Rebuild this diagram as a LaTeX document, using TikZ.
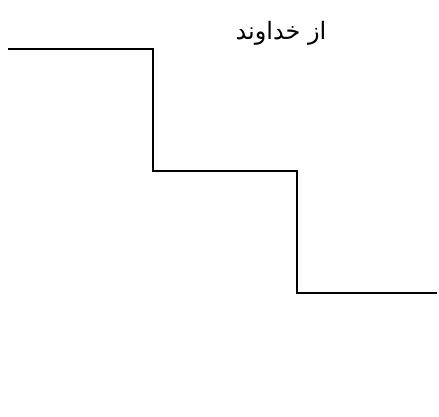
\documentclass[tikz,border=0pt]{standalone}
\usepackage{fontspec}
\TeXXeTstate=1
\newfontfamily\arabicfont[Script=Arabic]{DejaVu Sans}
\begin{document}
\begin{tikzpicture}[x=1pt,y=-1pt,
  stairline/.style={line width=1.5pt,line join=miter},
  label/.style={font=\arabicfont\fontsize{24}{30}\selectfont,inner sep=0pt}]
\useasboundingbox (0,0) rectangle (439,417);
\coordinate (s) at (8,49);
\coordinate (c1) at (153,49);
\coordinate (c2) at (153,171);
\coordinate (c3) at (297,171);
\coordinate (c4) at (297,293);
\coordinate (e) at (437,293);
\draw[stairline] (s) -- (c1) -- (c2) -- (c3) -- (c4) -- (e);
\node[label] (t) at (281,33) {\beginR از خداوند\endR};
\end{tikzpicture}
\end{document}
